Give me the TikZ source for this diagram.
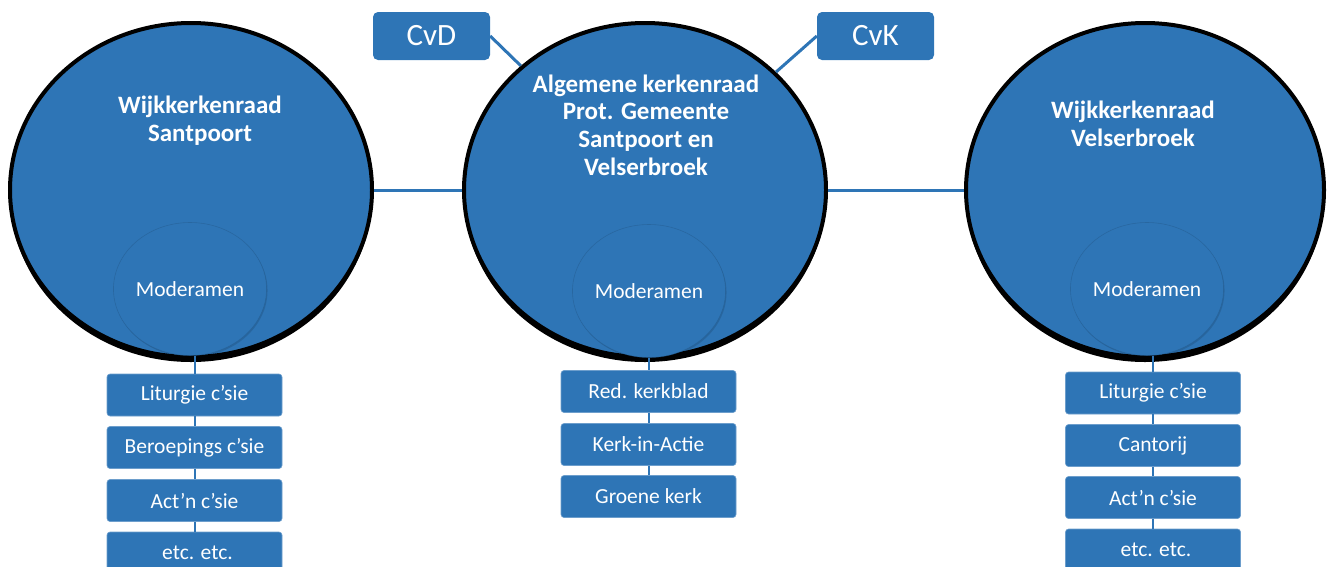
\documentclass[tikz,border=0pt]{standalone}
\usepackage{fontspec}
\setmainfont{Carlito}
\usetikzlibrary{shapes.geometric,shadows}
\definecolor{orgblue}{RGB}{46,117,182}
\tikzset{
  outer/.style={ellipse, draw=black, line width=4pt, fill=orgblue, inner sep=0pt,
    minimum width=362pt, minimum height=334pt,
    drop shadow={shadow xshift=0pt, shadow yshift=-5pt, fill=black, opacity=1}},
  moder/.style={ellipse, fill=orgblue, inner sep=0pt, minimum width=152pt, minimum height=133pt,
    text=white, font=\fontsize{21.5}{24}\selectfont,
    draw=orgblue!80!black, line width=0.6pt, draw opacity=0.6,
    drop shadow={shadow xshift=1pt, shadow yshift=-1.5pt, fill=black, opacity=0.12}},
  title/.style={text=white, align=center, font=\fontsize{25}{27.7}\selectfont\bfseries},
  sub/.style={rectangle, rounded corners=3pt, fill=orgblue, draw=orgblue!70!white, line width=0.6pt,
    minimum width=175pt, minimum height=42pt, inner sep=0pt, text=white,
    font=\fontsize{21.5}{24}\selectfont},
  topbox/.style={rectangle, rounded corners=5pt, fill=orgblue, minimum width=117pt, minimum height=48pt,
    inner sep=0pt, text=white, font=\fontsize{31}{34}\selectfont},
  link/.style={draw=orgblue, line width=3pt},
  vlink/.style={draw=orgblue, line width=2pt}
}
\begin{document}
\begin{tikzpicture}[x=1pt,y=-1pt]
\useasboundingbox (0,0) rectangle (1327,566);
% outer circles
\node[outer] (L) at (191,190) {};
\node[outer] (C) at (645,190) {};
\node[outer, minimum width=358pt] (R) at (1145,190) {};
% titles
\node[title] (Lt) at (200,121) {Wijkkerkenraad\\Santpoort};
\node[title] (Ct) at (646,125) {Algemene kerkenraad\\Prot. Gemeente\\Santpoort en\\Velserbroek};
\node[title] (Rt) at (1133,124) {Wijkkerkenraad\\Velserbroek};
% top boxes
\node[topbox] (CvD) at (431.5,36) {CvD};
\node[topbox] (CvK) at (875.5,36) {CvK};
\draw[link] (CvD.east) -- (C.135);
\draw[link] (CvK.west) -- (C.42);
% horizontal links
\draw[link] (L.east) -- (C.west);
\draw[link] (C.east) -- (R.west);
% moderamen
\node[moder] (LM) at (190,289) {Moderamen};
\node[moder] (CM) at (649,291) {Moderamen};
\node[moder] (RM) at (1147,289) {Moderamen};
% sub boxes
\node[sub] (L1) at (194.5,395) {Liturgie c’sie};
\node[sub] (L2) at (194.5,447.5) {Beroepings c’sie};
\node[sub] (L3) at (194.5,500.5) {Act’n c’sie};
\node[sub] (L4) at (194.5,553) {\hspace*{6pt}etc. etc.};
\node[sub] (C1) at (648.5,391.5) {Red. kerkblad};
\node[sub] (C2) at (648.5,444.5) {Kerk-in-Actie};
\node[sub] (C3) at (648.5,496.5) {Groene kerk};
\node[sub] (R1) at (1153,393) {Liturgie c’sie};
\node[sub] (R2) at (1153,445.5) {Cantorij};
\node[sub] (R3) at (1153,497.5) {Act’n c’sie};
\node[sub] (R4) at (1153,550) {\hspace*{6pt}etc. etc.};
% vertical links
\draw[vlink] (L1.north |- LM.south) -- (L1.north);
\draw[vlink] (L1.south) -- (L2.north);
\draw[vlink] (L2.south) -- (L3.north);
\draw[vlink] (L3.south) -- (L4.north);
\draw[vlink] (C1.north |- CM.south) -- (C1.north);
\draw[vlink] (C1.south) -- (C2.north);
\draw[vlink] (C2.south) -- (C3.north);
\draw[vlink] (R1.north |- RM.south) -- (R1.north);
\draw[vlink] (R1.south) -- (R2.north);
\draw[vlink] (R2.south) -- (R3.north);
\draw[vlink] (R3.south) -- (R4.north);
\end{tikzpicture}
\end{document}
